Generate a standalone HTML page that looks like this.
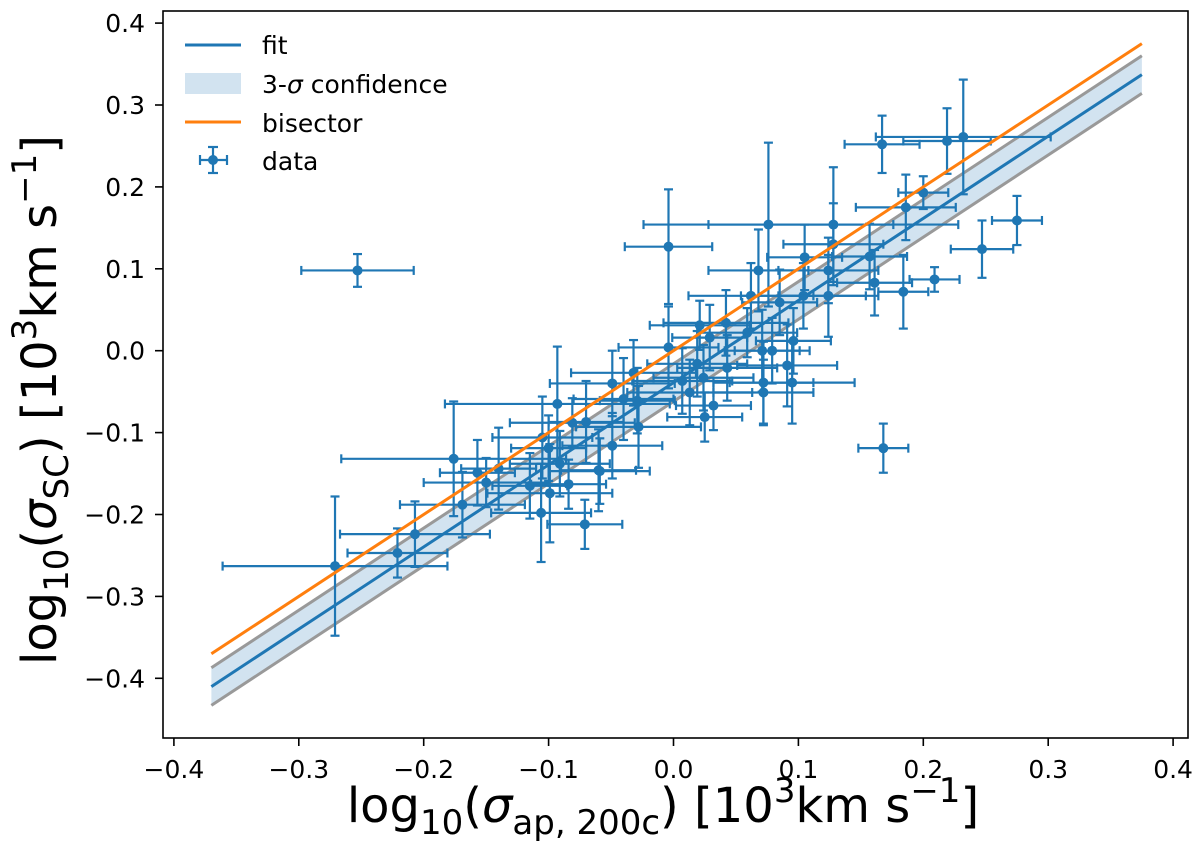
<!DOCTYPE html>
<html><head><meta charset="utf-8"><style>
body{margin:0;background:#fff}
svg text{font-family:"DejaVu Sans","Liberation Sans",sans-serif;fill:#000}
</style></head><body>
<svg id="c" width="1200" height="859" xmlns="http://www.w3.org/2000/svg" style="position:absolute;left:0;top:0"></svg>
<script>
const xs=[-0.253,-0.271,-0.221,-0.207,-0.169,-0.176,-0.157,-0.150,-0.140,-0.093,-0.105,-0.100,-0.081,-0.070,-0.091,-0.115,-0.099,-0.084,-0.060,-0.049,-0.028,-0.071,-0.106,-0.032,-0.040,-0.029,-0.004,-0.049,-0.004,0.076,0.128,0.186,0.200,0.167,0.219,0.232,0.275,0.247,0.209,0.184,0.168,0.128,0.105,0.157,0.161,0.124,0.124,0.104,0.085,0.062,0.068,0.042,0.021,0.029,0.059,0.096,0.071,0.079,0.043,0.091,0.019,0.007,0.013,0.024,0.032,0.025,0.072,0.095,0.072,-0.059];
const ys=[0.098,-0.263,-0.247,-0.224,-0.188,-0.132,-0.149,-0.161,-0.144,-0.065,-0.106,-0.119,-0.088,-0.087,-0.138,-0.165,-0.174,-0.163,-0.146,-0.116,-0.093,-0.212,-0.198,-0.027,-0.059,-0.061,0.004,-0.040,0.127,0.154,0.154,0.175,0.193,0.252,0.256,0.261,0.159,0.124,0.087,0.072,-0.119,0.130,0.114,0.115,0.083,0.098,0.067,0.067,0.059,0.067,0.098,0.034,0.031,0.016,0.022,0.012,0.000,0.000,-0.021,-0.018,-0.016,-0.037,-0.051,-0.033,-0.067,-0.081,-0.039,-0.039,-0.051,-0.147];
const xerr=[0.045,0.09,0.04,0.06,0.05,0.09,0.03,0.05,0.03,0.09,0.04,0.03,0.05,0.03,0.04,0.03,0.05,0.03,0.03,0.04,0.05,0.03,0.04,0.05,0.04,0.03,0.04,0.05,0.035,0.1,0.1,0.04,0.02,0.03,0.035,0.07,0.02,0.025,0.02,0.02,0.02,0.04,0.03,0.03,0.03,0.04,0.04,0.05,0.03,0.05,0.04,0.05,0.04,0.03,0.04,0.03,0.03,0.03,0.04,0.04,0.04,0.04,0.05,0.04,0.03,0.03,0.04,0.05,0.04,0.04];
const yerr=[0.02,0.085,0.03,0.04,0.04,0.07,0.04,0.03,0.05,0.07,0.05,0.04,0.03,0.05,0.04,0.04,0.06,0.03,0.05,0.04,0.05,0.03,0.06,0.04,0.05,0.04,0.05,0.04,0.07,0.1,0.07,0.04,0.02,0.035,0.04,0.07,0.03,0.035,0.015,0.045,0.03,0.05,0.04,0.04,0.04,0.04,0.05,0.04,0.04,0.04,0.05,0.04,0.03,0.04,0.03,0.04,0.05,0.04,0.04,0.05,0.04,0.04,0.04,0.04,0.03,0.03,0.05,0.05,0.04,0.04];
const xticks=[-0.4,-0.3,-0.2,-0.1,0.0,0.1,0.2,0.3,0.4];
const yticks=[-0.4,-0.3,-0.2,-0.1,0.0,0.1,0.2,0.3,0.4];
const fitSlope=[1.003],fitInt=[-0.039],band=[0.023],bisSlope=[1.0],bisInt=[0.0];
const lineRange=[-0.37,0.375];

const svg=document.getElementById('c');const NS='http://www.w3.org/2000/svg';
const L=163,R=1188,T=11,B=738;
const X=v=>673.5+v*1249, Y=v=>350.7-v*819;
function mk(t,a,p){const e=document.createElementNS(NS,t);for(const k in a)e.setAttribute(k,a[k]);(p||svg).appendChild(e);return e;}
const lbl=v=>(v<0?'\u2212':'')+Math.abs(v).toFixed(1);
const x0=lineRange[0],x1=lineRange[1];
const f=x=>fitSlope[0]*x+fitInt[0];
let b=mk('polygon',{points:`${X(x0)},${Y(f(x0)+band[0])} ${X(x1)},${Y(f(x1)+band[0])} ${X(x1)},${Y(f(x1)-band[0])} ${X(x0)},${Y(f(x0)-band[0])}`,fill:'#d2e3f0'});


[band[0],-band[0]].forEach((d,i)=>{const l=mk('line',{x1:X(x0),y1:Y(f(x0)+d),x2:X(x1),y2:Y(f(x1)+d),stroke:'#999',"stroke-width":3});

});
const g=mk('g',{stroke:'#1f77b4',"stroke-width":2.2,fill:'#1f77b4'});


xs.forEach((x,i)=>{const px=X(x),py=Y(ys[i]),xa=X(x-xerr[i]),xb=X(x+xerr[i]),ya=Y(ys[i]+yerr[i]),yb=Y(ys[i]-yerr[i]);
const p=mk('g',{},g);


mk('line',{x1:xa,y1:py,x2:xb,y2:py},p);mk('line',{x1:px,y1:ya,x2:px,y2:yb},p);
mk('line',{x1:xa,y1:py-4.5,x2:xa,y2:py+4.5},p);mk('line',{x1:xb,y1:py-4.5,x2:xb,y2:py+4.5},p);
mk('line',{x1:px-4.5,y1:ya,x2:px+4.5,y2:ya},p);mk('line',{x1:px-4.5,y1:yb,x2:px+4.5,y2:yb},p);
mk('circle',{cx:px,cy:py,r:5,stroke:'none'},p);});
let fl=mk('line',{x1:X(x0),y1:Y(f(x0)),x2:X(x1),y2:Y(f(x1)),stroke:'#1f77b4',"stroke-width":3});


const bs=x=>bisSlope[0]*x+bisInt[0];
let bl=mk('line',{x1:X(x0),y1:Y(bs(x0)),x2:X(x1),y2:Y(bs(x1)),stroke:'#ff7f0e',"stroke-width":3});


let fr=mk('rect',{x:L,y:T,width:R-L,height:B-T,fill:'none',stroke:'#000',"stroke-width":1.6});


xticks.forEach(v=>{const px=X(v);mk('line',{x1:px,y1:B,x2:px,y2:B+8,stroke:'#000',"stroke-width":1.6});
const t=mk('text',{x:px,y:B+40,"text-anchor":"middle","font-size":25});t.textContent=lbl(v);

});
yticks.forEach(v=>{const py=Y(v);mk('line',{x1:L-8,y1:py,x2:L,y2:py,stroke:'#000',"stroke-width":1.6});
const t=mk('text',{x:L-18,y:py+9,"text-anchor":"end","font-size":25});t.textContent=lbl(v);

});
</script>
<svg width="1200" height="859" style="position:absolute;left:0;top:0" xmlns="http://www.w3.org/2000/svg">
<text x="663" y="822" text-anchor="middle" font-size="48">log<tspan font-size="34" dy="12">10</tspan><tspan dy="-12">(</tspan><tspan font-style="italic">σ</tspan><tspan font-size="34" dy="12">ap, 200c</tspan><tspan dy="-12">) [10</tspan><tspan font-size="34" dy="-20">3</tspan><tspan dy="20">km s</tspan><tspan font-size="34" dy="-20">−1</tspan><tspan dy="20">]</tspan></text>
<text transform="translate(56,400) rotate(-90)" text-anchor="middle" font-size="48">log<tspan font-size="34" dy="12">10</tspan><tspan dy="-12">(</tspan><tspan font-style="italic">σ</tspan><tspan font-size="34" dy="12">SC</tspan><tspan dy="-12">) [10</tspan><tspan font-size="34" dy="-20">3</tspan><tspan dy="20">km s</tspan><tspan font-size="34" dy="-20">−1</tspan><tspan dy="20">]</tspan></text>
<g font-size="25">
<line x1="185" y1="45" x2="241" y2="45" stroke="#1f77b4" stroke-width="3"/><text x="262" y="54">fit</text>
<rect x="185" y="73" width="56" height="21" fill="#d2e3f0"/><text x="262" y="93">3-<tspan font-style="italic">σ</tspan> confidence</text>
<line x1="185" y1="122" x2="241" y2="122" stroke="#ff7f0e" stroke-width="3"/><text x="262" y="132">bisector</text>
<g stroke="#1f77b4" stroke-width="2.2"><line x1="200" y1="160" x2="227" y2="160"/><line x1="213" y1="147" x2="213" y2="173"/><line x1="200" y1="155" x2="200" y2="165"/><line x1="227" y1="155" x2="227" y2="165"/><line x1="208" y1="147" x2="218" y2="147"/><line x1="208" y1="173" x2="218" y2="173"/></g>
<circle cx="213" cy="160" r="5" fill="#1f77b4"/><text x="262" y="170">data</text>
</g>
</svg>
</body></html>
